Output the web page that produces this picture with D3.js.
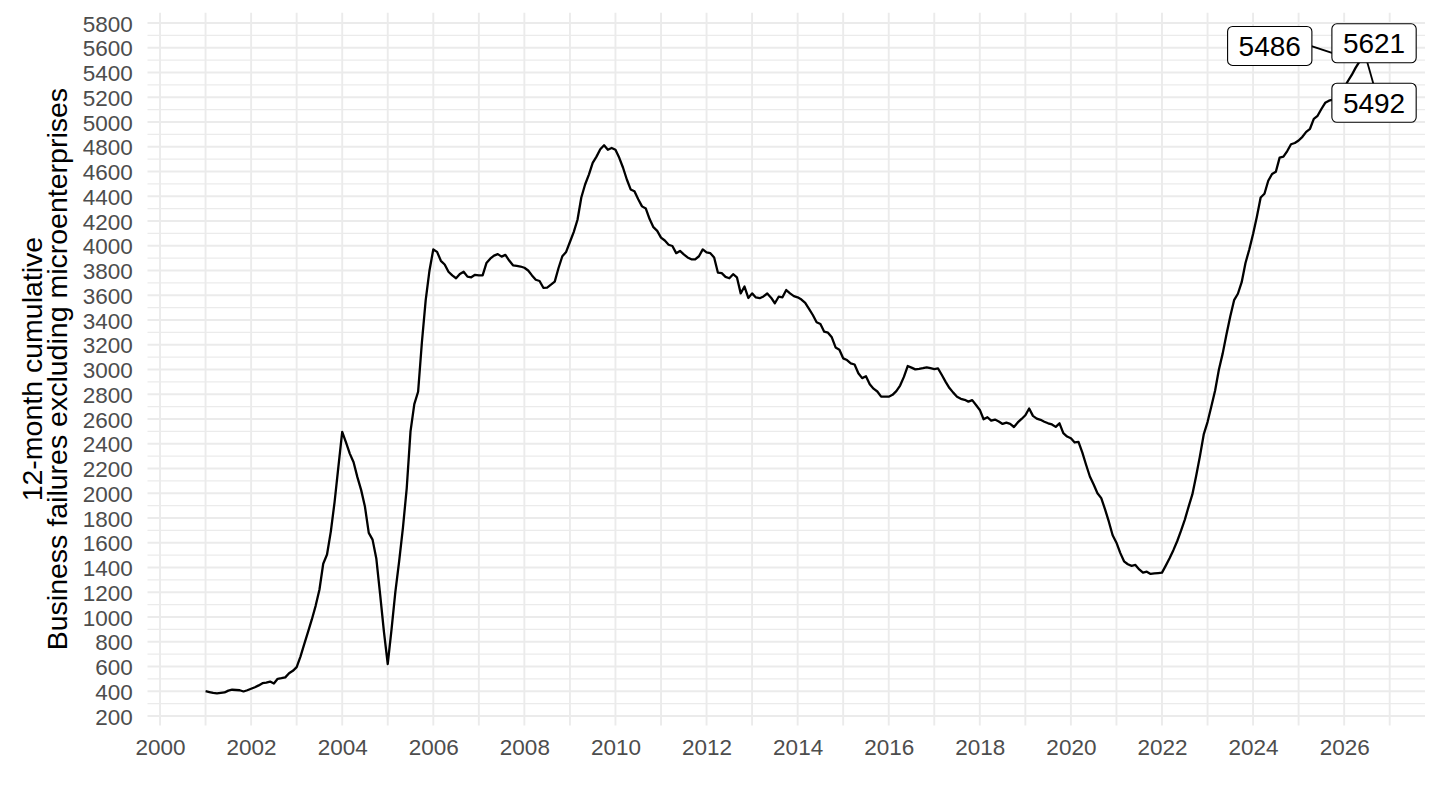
<!DOCTYPE html>
<html>
<head>
<meta charset="utf-8">
<script src="https://cdn.jsdelivr.net/npm/d3@7/dist/d3.min.js"></script>
<style>
  html, body { margin: 0; padding: 0; background: #ffffff; }
  svg { display: block; font-family: "Liberation Sans", Arial, Helvetica, sans-serif; }
</style>
</head>
<body>
<svg id="chart" width="1440" height="810"></svg>
<script>
// ---------------- DATA ----------------
const firstYear = 2001;          // series starts January 2001, monthly
const failures = [
  // 2001
  400, 393, 386, 383, 387, 390, 405, 412, 410, 408, 398, 408,
  // 2002
  420, 432, 447, 465, 470, 478, 462, 500, 505, 512, 545, 565,
  // 2003
  595, 680, 780, 880, 980, 1090, 1220, 1430, 1505, 1690, 1930, 2215,
  // 2004
  2495, 2410, 2320, 2250, 2130, 2025, 1890, 1680, 1625, 1470, 1180, 880,
  // 2005
  620, 900, 1200, 1450, 1720, 2040, 2500, 2720, 2820, 3220, 3560, 3800,
  // 2006
  3970, 3950, 3878, 3848, 3790, 3760, 3737, 3772, 3790, 3750, 3745, 3765,
  // 2007
  3760, 3760, 3860, 3895, 3920, 3932, 3912, 3926, 3880, 3842, 3837, 3832,
  // 2008
  3822, 3800, 3760, 3725, 3715, 3660, 3662, 3685, 3710, 3820, 3915, 3950,
  // 2009
  4030, 4110, 4210, 4390, 4495, 4575, 4670, 4720, 4780, 4812, 4775, 4790,
  // 2010
  4775, 4710, 4630, 4535, 4455, 4440, 4375, 4318, 4300, 4215, 4150, 4120,
  // 2011
  4065, 4042, 4008, 3998, 3940, 3958, 3930, 3905, 3890, 3890, 3915, 3970,
  // 2012
  3946, 3940, 3905, 3782, 3778, 3748, 3737, 3770, 3745, 3615, 3670, 3578,
  // 2013
  3615, 3582, 3576, 3590, 3614, 3580, 3535, 3588, 3583, 3642, 3615, 3593,
  // 2014
  3583, 3565, 3538, 3490, 3440, 3382, 3368, 3305, 3297, 3260, 3178, 3160,
  // 2015
  3090, 3076, 3050, 3040, 2970, 2930, 2945, 2880, 2845, 2822, 2780, 2780,
  // 2016
  2780, 2795, 2825, 2870, 2940, 3028, 3015, 3001, 3005, 3010, 3017, 3010,
  // 2017
  3003, 3008, 2955, 2900, 2850, 2813, 2780, 2763, 2755, 2740, 2752, 2713,
  // 2018
  2673, 2598, 2614, 2586, 2595, 2580, 2560, 2570, 2560, 2535, 2572, 2600,
  // 2019
  2630, 2685, 2625, 2603, 2593, 2578, 2565, 2556, 2536, 2565, 2485, 2458,
  // 2020
  2444, 2410, 2415, 2330, 2230, 2135, 2070, 2000, 1960, 1870, 1770, 1660,
  // 2021
  1600, 1518, 1450, 1426, 1413, 1420, 1384, 1358, 1366, 1348, 1352, 1355,
  // 2022
  1358, 1415, 1475, 1540, 1612, 1695, 1785, 1890, 1990, 2140, 2300, 2475,
  // 2023
  2575, 2700, 2830, 3000, 3130, 3285, 3430, 3560, 3612, 3705, 3860, 3970,
  // 2024
  4095, 4235, 4390, 4420, 4525, 4580, 4598, 4712, 4720, 4765, 4820, 4830,
  // 2025
  4850, 4880, 4920, 4945, 5025, 5050, 5105, 5155, 5172, 5180, 5200, 5225,
  // 2026
  5277, 5331, 5380, 5437, 5486, 5621, 5492
];
const xTickLabels = [2000, 2002, 2004, 2006, 2008, 2010, 2012, 2014, 2016, 2018, 2020, 2022, 2024, 2026];
const xGridYears = d3.range(2000, 2028);
const yTickValues = d3.range(200, 5801, 200);
const yMinorValues = d3.range(300, 5801, 200);
const yTitleLines = ["12-month cumulative", "Business failures excluding microenterprises"];
const labelCount = 3; // last three observations are labelled

// ---------------- LAYOUT ----------------
const panel = { left: 147.5, right: 1425, top: 12.7, bottom: 725.5 };
const labelOffsets = [[-89.6, -15.9], [10.9, -1.8], [7.1, 41.7]];
const segmentAim = [[0, -13.5], [0, 0], [4.7, 0]];

const series = failures.map((v, i) => ({ t: firstYear + i / 12, v }));

const x = d3.scaleLinear().domain([1999.725, 2027.775]).range([panel.left, panel.right]);
const y = d3.scaleLinear().domain([123, 5883]).range([panel.bottom, panel.top]);

const svg = d3.select("#chart");
const grid = "#EBEBEB";

// grid lines
svg.append("g").selectAll("line").data(yMinorValues).join("line")
  .attr("x1", panel.left).attr("x2", panel.right)
  .attr("y1", d => y(d)).attr("y2", d => y(d))
  .attr("stroke", grid).attr("stroke-width", 1.1);
svg.append("g").selectAll("line").data(yTickValues).join("line")
  .attr("x1", panel.left).attr("x2", panel.right)
  .attr("y1", d => y(d)).attr("y2", d => y(d))
  .attr("stroke", grid).attr("stroke-width", 1.9);
svg.append("g").selectAll("line").data(xGridYears).join("line")
  .attr("x1", d => x(d)).attr("x2", d => x(d))
  .attr("y1", panel.top).attr("y2", panel.bottom)
  .attr("stroke", grid).attr("stroke-width", 1.9);

// axes text
const yAxis = d3.axisLeft(y).tickValues(yTickValues).tickSize(0).tickPadding(0).tickFormat(d3.format("d"));
const gy = svg.append("g").attr("transform", `translate(${132.7},0)`).call(yAxis);
gy.select(".domain").remove();
gy.selectAll("text").attr("fill", "#4D4D4D").attr("font-size", 22.5)
  .attr("font-family", "Liberation Sans, Arial, sans-serif").attr("dy", "0.36em");

const xAxis = d3.axisBottom(x).tickValues(xTickLabels).tickSize(0).tickPadding(0).tickFormat(d3.format("d"));
const gx = svg.append("g").attr("transform", `translate(0,${755})`).call(xAxis);
gx.select(".domain").remove();
gx.selectAll("text").attr("fill", "#4D4D4D").attr("font-size", 22.5)
  .attr("font-family", "Liberation Sans, Arial, sans-serif").attr("dy", 0);

// y title
const titleCenter = (panel.top + panel.bottom) / 2;
const titleBaselines = [41.5, 66.7];
yTitleLines.forEach((txt, i) => {
  svg.append("text")
    .attr("transform", `translate(${titleBaselines[i]},${titleCenter}) rotate(-90)`)
    .attr("text-anchor", "middle")
    .attr("font-size", 28.5)
    .attr("fill", "#000")
    .text(txt);
});

// line
const line = d3.line().x(d => x(d.t)).y(d => y(d.v));
svg.append("path").datum(series)
  .attr("d", line)
  .attr("fill", "none")
  .attr("stroke", "#000")
  .attr("stroke-width", 2.3)
  .attr("stroke-linejoin", "round");

// labels for last observations
const labelled = series.slice(-labelCount);
const boxH = 39, padX = 11, fs = 28;
const segG = svg.append("g");
const labG = svg.append("g");
labelled.forEach((d, i) => {
  const px = x(d.t), py = y(d.v);
  const cx = px + labelOffsets[i][0], cy = py + labelOffsets[i][1];
  const g = labG.append("g");
  const rect = g.append("rect");
  const t = g.append("text")
    .attr("x", cx).attr("y", cy + 0.358 * fs)
    .attr("text-anchor", "middle")
    .attr("font-size", fs)
    .attr("fill", "#000")
    .text(d3.format("d")(d.v));
  const w = t.node().getComputedTextLength() + 2 * padX;
  rect.attr("x", cx - w / 2).attr("y", cy - boxH / 2)
    .attr("width", w).attr("height", boxH)
    .attr("rx", 5).attr("ry", 5)
    .attr("fill", "#fff").attr("stroke", "#000").attr("stroke-width", 1.1);
  const inside = px > cx - w / 2 && px < cx + w / 2 && py > cy - boxH / 2 && py < cy + boxH / 2;
  if (!inside) {
    segG.append("line")
      .attr("x1", px).attr("y1", py)
      .attr("x2", cx + segmentAim[i][0]).attr("y2", cy + segmentAim[i][1])
      .attr("stroke", "#000").attr("stroke-width", 1.8);
  }
});
</script>
</body>
</html>
